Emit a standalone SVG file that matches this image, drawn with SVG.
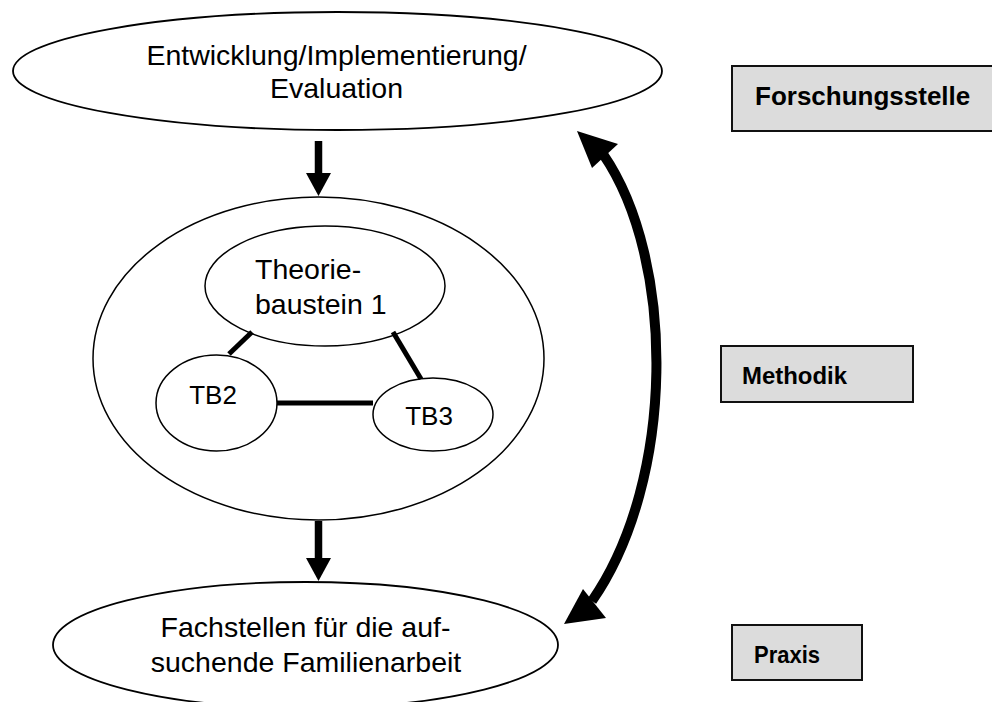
<svg xmlns="http://www.w3.org/2000/svg" width="992" height="702" viewBox="0 0 992 702">
<style>
.el{fill:#fff;stroke:#000;stroke-width:1.8}
.in{fill:#fff;stroke:#000;stroke-width:1.5}
.t{font-family:"Liberation Sans",Arial,sans-serif;font-size:28.5px;fill:#000}
.tb{font-size:26px}
.tc{text-anchor:middle}
.box{fill:#dcdcdc;stroke:#111;stroke-width:2}
.bt{font-family:"Liberation Sans",Arial,sans-serif;font-weight:bold;fill:#000}
.line{stroke:#000;stroke-width:5;fill:none}
.shaft{stroke:#000;stroke-width:7.5;fill:none}
.arc{stroke:#000;stroke-width:10;fill:none}
.ah{fill:#000;stroke:none}
</style>
<rect width="992" height="702" fill="#fff"/>
<g id="entwicklung">
  <ellipse class="el" cx="337.5" cy="71" rx="324.5" ry="59"/>
  <text class="t tc" x="336.5" y="65">Entwicklung/Implementierung/</text>
  <text class="t tc" x="336.5" y="98">Evaluation</text>
</g>
<g id="theorie">
  <ellipse class="in" cx="318.5" cy="358.5" rx="225.5" ry="161.5"/>
</g>
<g id="tb1">
  <ellipse class="in" cx="325" cy="286" rx="120" ry="60"/>
  <text class="t" x="255" y="279">Theorie-</text>
  <text class="t" x="255" y="314">baustein 1</text>
</g>
<g id="tb2">
  <ellipse class="in" cx="216.5" cy="403" rx="60.5" ry="48"/>
  <text class="t tb tc" x="213" y="404">TB2</text>
</g>
<g id="tb3">
  <ellipse class="in" cx="433" cy="414.5" rx="60" ry="36.5"/>
  <text class="t tb tc" x="429" y="425">TB3</text>
</g>
<g id="fachstellen">
  <ellipse class="el" cx="305.5" cy="645" rx="252.5" ry="63"/>
  <text class="t tc" x="305.5" y="637">Fachstellen für die auf-</text>
  <text class="t tc" x="306" y="672">suchende Familienarbeit</text>
</g>
<g id="forschungsstelle">
  <rect class="box" x="732" y="66" width="264" height="65"/>
  <text class="bt" x="755" y="105" font-size="26">Forschungsstelle</text>
</g>
<g id="methodik">
  <rect class="box" x="721" y="346" width="192" height="56"/>
  <text class="bt" x="742" y="384" font-size="24.5" textLength="105" lengthAdjust="spacingAndGlyphs">Methodik</text>
</g>
<g id="praxis">
  <rect class="box" x="732" y="625" width="130" height="55"/>
  <text class="bt" x="754" y="663" font-size="24.5" textLength="66" lengthAdjust="spacingAndGlyphs">Praxis</text>
</g>
<g id="connectors">
  <line class="shaft" x1="318.5" y1="141" x2="318.5" y2="175"/>
  <polygon class="ah" points="306,173 331,173 318.5,196"/>
  <line class="shaft" x1="318.5" y1="521" x2="318.5" y2="560"/>
  <polygon class="ah" points="306,558 331,558 318.5,581"/>
  <line class="line" x1="252" y1="332" x2="229" y2="354"/>
  <line class="line" x1="393" y1="332" x2="421" y2="379"/>
  <line class="line" x1="277" y1="403" x2="373" y2="403"/>
  <path class="arc" d="M603,154 C676,260 676,480 592,601"/>
  <polygon class="ah" points="577,131 618,144 592,168"/>
  <polygon class="ah" points="564,624 583,589 606,618"/>
</g>
</svg>
